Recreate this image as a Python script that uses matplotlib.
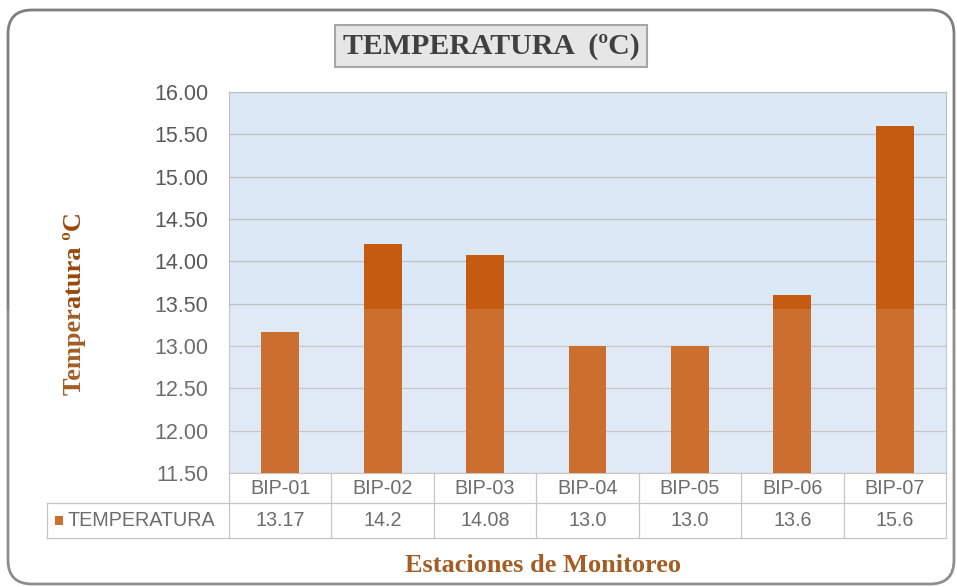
import numpy as np
import matplotlib
matplotlib.use("Agg")
import matplotlib.pyplot as plt
from matplotlib.patches import FancyBboxPatch, Rectangle
from matplotlib.transforms import blended_transform_factory

estaciones = ["BIP-01", "BIP-02", "BIP-03", "BIP-04", "BIP-05", "BIP-06", "BIP-07"]
temperatura = [13.17, 14.2, 14.08, 13.0, 13.0, 13.6, 15.6]
etiquetas_valor = ["13.17", "14.2", "14.08", "13.0", "13.0", "13.6", "15.6"]
y_ticks = [11.5, 12.0, 12.5, 13.0, 13.5, 14.0, 14.5, 15.0, 15.5, 16.0]

BAR = "#c55a11"
TXT = "#595959"
BROWN = "#984807"
GRID = "#c0c0c0"
SANS = "Liberation Sans"
SERIF = "Liberation Serif"

W, H = 957, 587
fig = plt.figure(figsize=(W / 100, H / 100), dpi=100)
fig.patch.set_facecolor("white")

# rounded outer frame
frame = FancyBboxPatch((8 / W, 3 / H), 946 / W, 574 / H,
                       boxstyle="round,pad=0,rounding_size=0.025",
                       transform=fig.transFigure, facecolor="none",
                       edgecolor="#7f7f7f", linewidth=2, mutation_aspect=W / H)
fig.add_artist(frame)

ax = fig.add_axes([229 / W, 1 - 473 / H, (946 - 229) / W, (473 - 92) / H])
ax.set_facecolor("#dbe8f5")

x = np.arange(len(estaciones))
ax.bar(x, np.array(temperatura) - 11.5, bottom=11.5, width=0.37, color=BAR, zorder=3)

ax.set_xlim(-0.5, len(estaciones) - 0.5)
ax.set_ylim(11.5, 16.0)
ax.set_yticks(y_ticks)
ax.set_yticklabels([f"{v:.2f}" for v in y_ticks], fontsize=15.5, color=TXT,
                   family=SANS)
ax.tick_params(axis="y", length=0, pad=15)
ax.set_xticks([])
ax.grid(axis="y", color=GRID, linewidth=0.9, zorder=1)
for s in ax.spines.values():
    s.set_color("#bfbfbf")
    s.set_linewidth(0.8)

# data table under the axis
tr = blended_transform_factory(ax.transData, ax.transAxes)
ax_h = 473 - 92
r1 = -(503 - 473) / ax_h
r2 = -(538 - 473) / ax_h
lc = dict(color="#bfbfbf", linewidth=0.9, clip_on=False, transform=tr)
left_edge = -0.5 - (229 - 47) / ((946 - 229) / len(estaciones))
ax.plot([left_edge, 6.5], [r1, r1], **lc)
ax.plot([left_edge, 6.5], [r2, r2], **lc)
ax.plot([left_edge, left_edge], [r1, r2], **lc)
for b in np.arange(-0.5, 7.0, 1.0):
    ax.plot([b, b], [0, r2], **lc)

for i, (est, val) in enumerate(zip(estaciones, etiquetas_valor)):
    ax.text(i, r1 / 2, est, transform=tr, ha="center", va="center",
            fontsize=14.2, color=TXT, family=SANS)
    ax.text(i, (r1 + r2) / 2, val, transform=tr, ha="center", va="center",
            fontsize=14.2, color=TXT, family=SANS)

ax.add_patch(Rectangle((left_edge + 0.08, (r1 + r2) / 2 - 0.012), 0.075, 0.024,
                       transform=tr, facecolor=BAR, clip_on=False))
ax.text(left_edge + 0.2, (r1 + r2) / 2, "TEMPERATURA", transform=tr,
        ha="left", va="center", fontsize=14.2, color=TXT, family=SANS)

# titles
fig.text(491 / W, 1 - 46 / H, "TEMPERATURA  (ºC)", ha="center", va="center",
         fontsize=21.5, fontweight="bold", family=SERIF, color="#404040",
         bbox=dict(boxstyle="square,pad=0.24", facecolor="#e6e6e6",
                   edgecolor="#a6a6a6", linewidth=1.5))
fig.text(75 / W, 1 - 304 / H, "Temperatura ºC", rotation=90, ha="center",
         va="center", fontsize=19, fontweight="bold", family=SERIF,
         color=BROWN)
fig.text(543 / W, 1 - 566 / H, "Estaciones de Monitoreo", ha="center",
         va="center", fontsize=19, fontweight="bold", family=SERIF,
         color=BROWN)

# faint wash over the lower half of the sheet
wash = Rectangle((0, 0), 1, 1 - 309 / H, transform=fig.transFigure,
                 facecolor="white", alpha=0.12, edgecolor="none", zorder=10)
fig.add_artist(wash)

fig.savefig("out.png", dpi=100)
